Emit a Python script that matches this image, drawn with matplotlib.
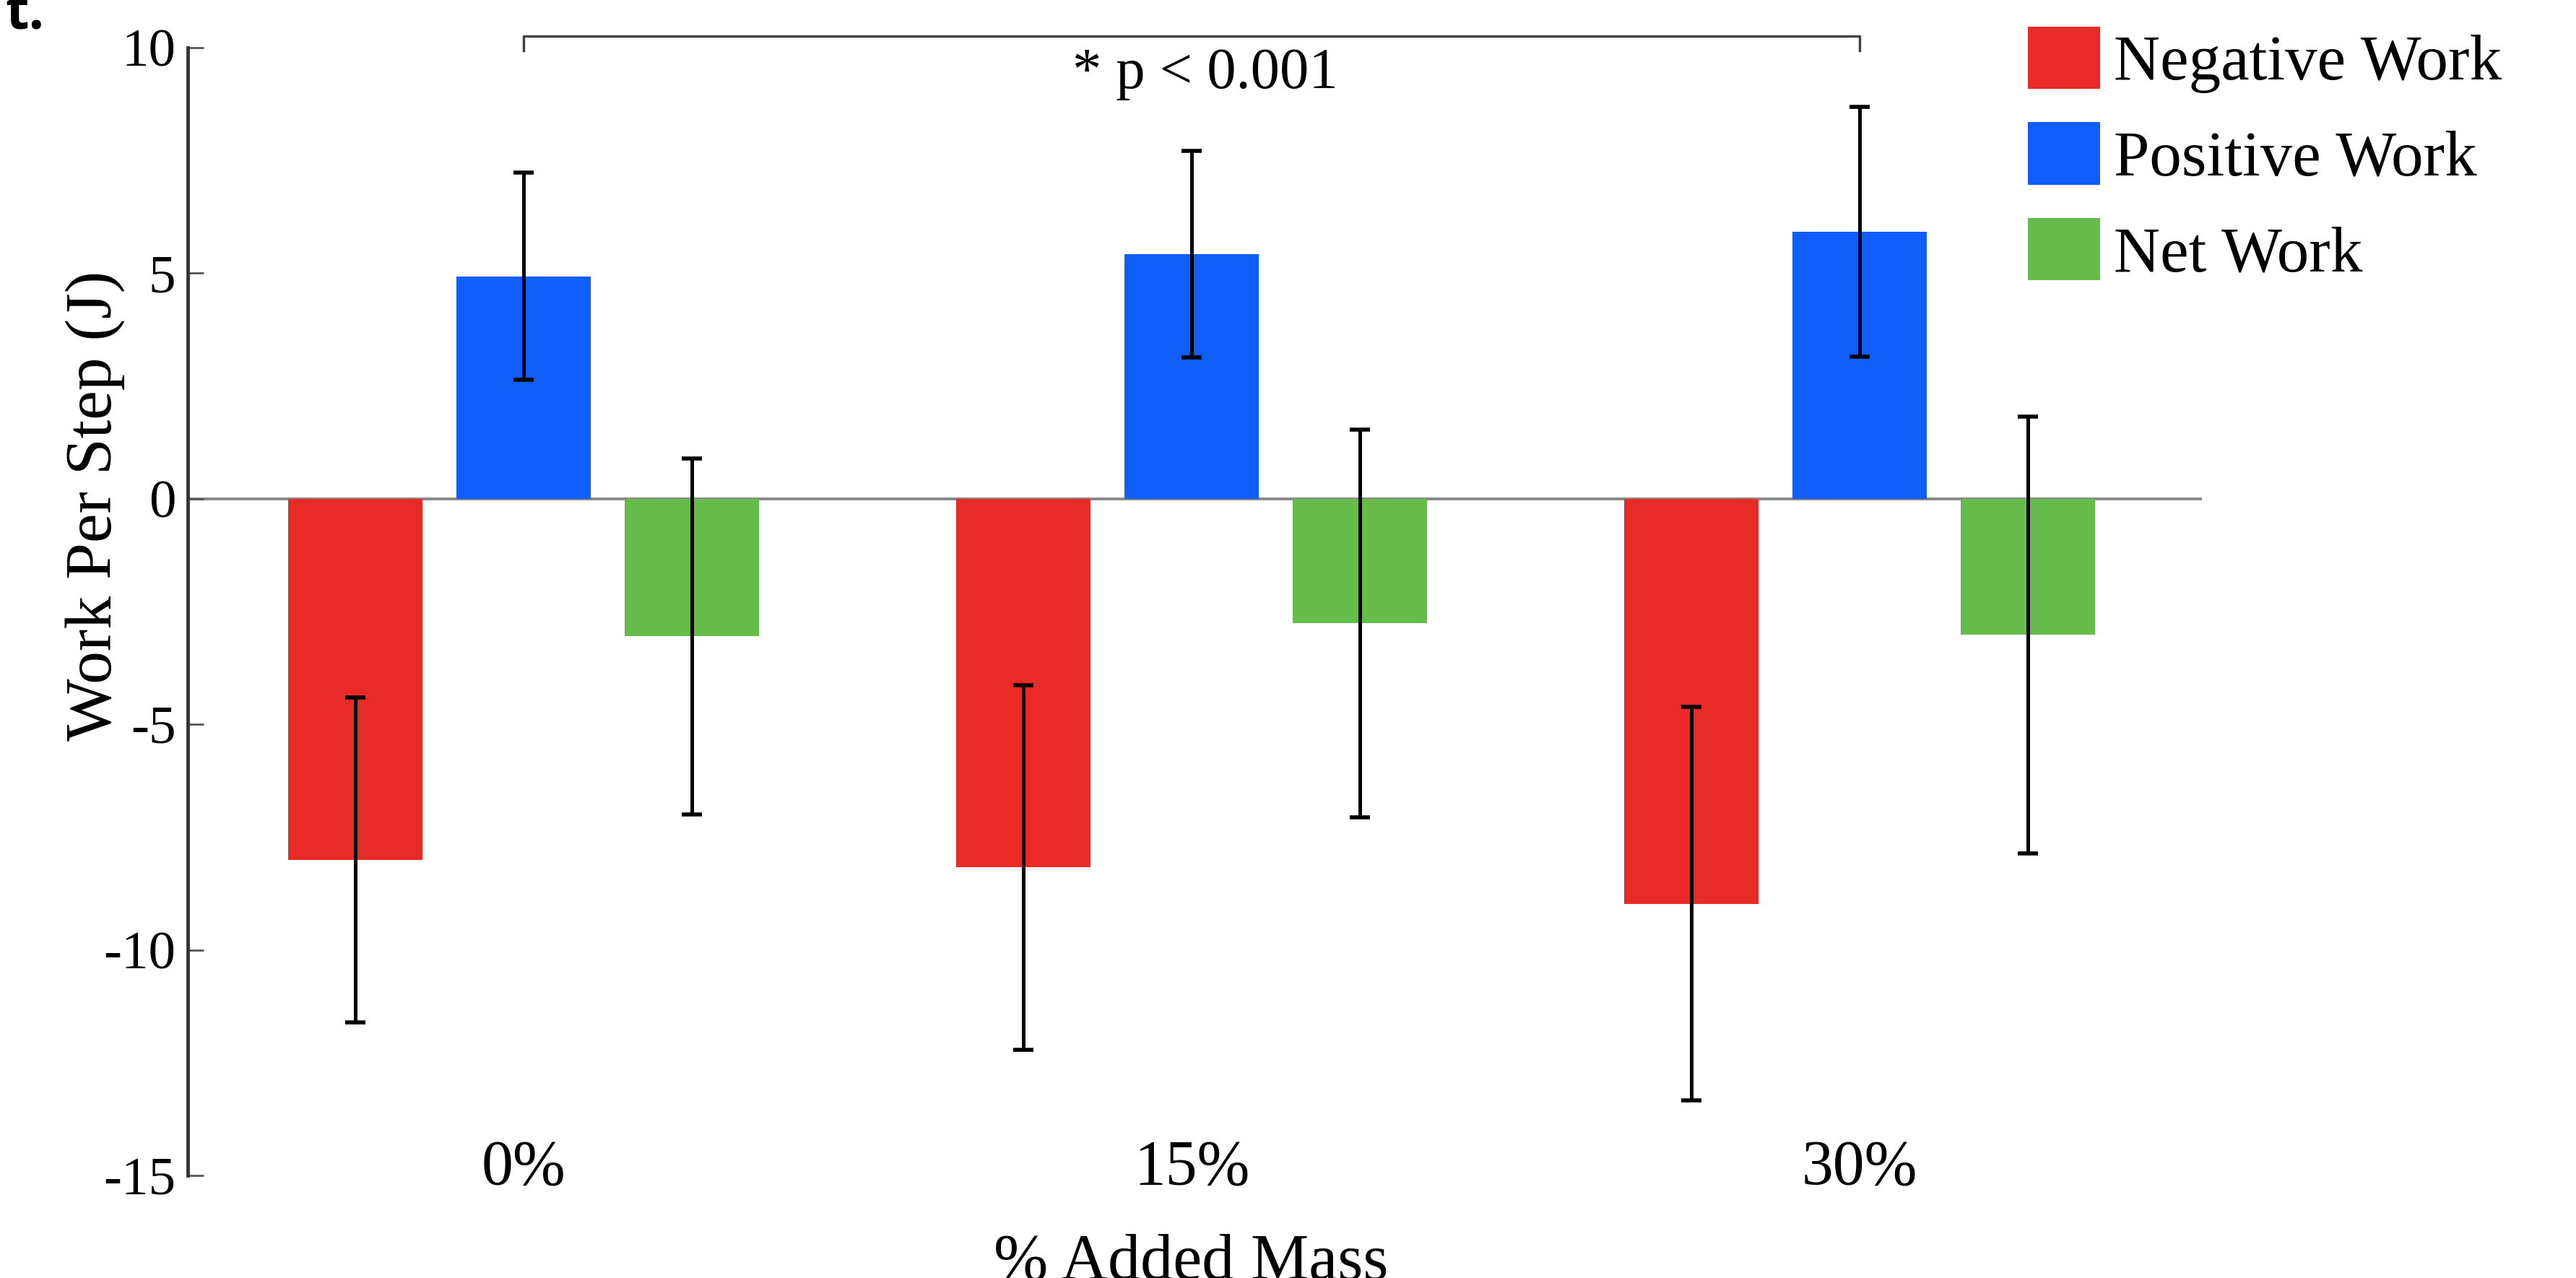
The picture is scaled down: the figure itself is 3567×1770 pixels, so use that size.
import numpy as np
import matplotlib
matplotlib.use("Agg")
import matplotlib.pyplot as plt
from matplotlib.patches import Patch

# ---- data ----
categories = ["0%", "15%", "30%"]
series_names = ["Negative Work", "Positive Work", "Net Work"]
negative_work = [-8.00, -8.17, -8.98]
negative_err = [3.60, 4.04, 4.36]
positive_work = [4.93, 5.42, 5.92]
positive_err = [2.30, 2.29, 2.77]
net_work = [-3.05, -2.76, -3.02]
net_err = [3.95, 4.30, 4.84]
y_ticks = [10, 5, 0, -5, -10, -15]
sig_label = "* p < 0.001"

# ---- style ----
plt.rcParams["font.family"] = ["Liberation Serif", "DejaVu Serif"]
plt.rcParams["axes.unicode_minus"] = False
colors = ["#E82B27", "#0F5EF9", "#65BC4A"]

W, H, DPI = 3567, 1770, 100
fig = plt.figure(figsize=(W / DPI, H / DPI), dpi=DPI)
ax = fig.add_axes([260 / W, 1 - 1628 / H, (3049 - 260) / W, (1628 - 66) / H])

x = np.arange(len(categories))
pitch = 0.252
width = 0.201
values = [negative_work, positive_work, net_work]
errors = [negative_err, positive_err, net_err]

ax.axhline(0, color="#888888", lw=2.8, zorder=1)
for i, (vals, errs, c) in enumerate(zip(values, errors, colors)):
    xi = x + (i - 1) * pitch
    ax.bar(xi, vals, width=width, color=c, edgecolor="none", zorder=2)
    ax.errorbar(xi, vals, yerr=errs, fmt="none", ecolor="black",
                elinewidth=3.6, capsize=10, capthick=4, zorder=3)

ax.set_xlim(-0.5027, 2.5124)
ax.set_ylim(-15, 10)

for s in ["top", "right", "bottom"]:
    ax.spines[s].set_visible(False)
ax.spines["left"].set_color("#333333")
ax.spines["left"].set_linewidth(3.5)

ax.set_yticks(y_ticks)
ax.set_yticklabels([str(t) for t in y_ticks])
ax.tick_params(axis="y", direction="in", length=16, width=2, color="#555555",
               labelsize=54, pad=12)
ax.set_xticks(x)
ax.set_xticklabels(categories)
ax.tick_params(axis="x", length=0, labelsize=63, pad=-36)

ax.set_xlabel("% Added Mass", fontsize=65)
ax.xaxis.set_label_coords(0.498, -0.051)
ax.text(-0.0459, 0.594, "Work Per Step (J)", rotation=90, ha="center",
        va="center", fontsize=66, transform=ax.transAxes)

# significance bracket between the Positive Work bars of first and last group
bx0, bx1 = x[0], x[-1]
ax.plot([bx0, bx0, bx1, bx1], [9.93, 10.25, 10.25, 9.93], color="#444444",
        lw=2.5, clip_on=False, zorder=4)
ax.text((bx0 + bx1) / 2 + 0.02, 9.1, sig_label, ha="center", va="baseline",
        fontsize=58)

handles = [Patch(facecolor=c, edgecolor="none") for c in colors]
fig.legend(handles, series_names, loc="upper left",
           bbox_to_anchor=(2808 / W, 1 - 37 / H), frameon=False, fontsize=64,
           handlelength=1.12, handleheight=1.12, handletextpad=0.22,
           labelspacing=0.45, borderpad=0, borderaxespad=0)

fig.text(7 / W, 1 - 40 / H, "t.", fontsize=54, fontweight="bold",
         family=["Open Sans", "DejaVu Sans"], va="baseline", ha="left")

fig.savefig("out.png", dpi=DPI, facecolor="white")
